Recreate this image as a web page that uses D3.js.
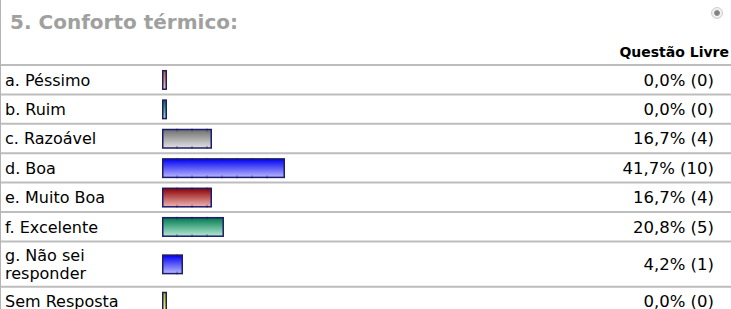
<!DOCTYPE html>
<html>
<head>
<meta charset="utf-8">
<script src="https://cdn.jsdelivr.net/npm/d3@7"></script>
<style>
	body { margin: 0; background: #fff; }
	svg { display: block; font-family: "DejaVu Sans", Verdana, sans-serif; }
</style>
</head>
<body>
<div class="container"></div>
<script>
"use strict";

// chart data
const title = '5. Conforto térmico:'
const columnHeader = 'Questão Livre'
const labels = [['a. Péssimo'], ['b. Ruim'], ['c. Razoável'], ['d. Boa'], ['e. Muito Boa'],
	['f. Excelente'], ['g. Não sei', 'responder'], ['Sem Resposta']]
const percents = [0.0, 0.0, 16.7, 41.7, 16.7, 20.8, 4.2, 0.0]
const counts = [0, 0, 4, 10, 4, 5, 1, 0]
const barColors = [
	['#c05a28', '#f2cdb0'], ['#00665a', '#a8dcd2'], ['#6e6e6e', '#e2e2e2'], ['#0000f0', '#b8b8ff'],
	['#8c0000', '#f0b4b4'], ['#00784e', '#b4ead4'], ['#0000f0', '#b8b8ff'], ['#b4b400', '#ffff7a']
]

//p(properties) of the page layout
const p = {
	width: 731,
	height: 309,
	firstLine: 65,
	rowHeight: 29.4,
	lineHeight: 18.5,
	labelX: 5,
	labelSize: 16,
	barX: 162,
	barHeight: 20,
	valueRight: 714,
	valueSize: 16.5
}

const svg = d3.select('.container')
	.append('svg')
	.attr('width', p.width)
	.attr('height', p.height)

const fmt = v => d3.format('.1f')(v).replace('.', ',')

//row tops, the two line row is taller
let rows = []
let y = p.firstLine
labels.forEach(function(l, i) {
	const h = p.rowHeight + (l.length - 1) * 16
	rows.push({ label: l, pct: percents[i], count: counts[i], color: barColors[i], y0: y, h: h })
	y += h
})

//bar width scale (minimum width for the empty bars)
const x = d3.scaleLinear().domain([0, 4.2, 16.7, 41.7]).range([5, 21, 50, 123])

//gradients
const defs = svg.append('defs')
rows.forEach(function(r, i) {
	const g = defs.append('linearGradient')
		.attr('id', 'grad' + i)
		.attr('x1', 0).attr('y1', 0).attr('x2', 0).attr('y2', 1)
	g.append('stop').attr('offset', '0%').attr('stop-color', r.color[0])
	g.append('stop').attr('offset', '100%').attr('stop-color', r.color[1])
})
const rg = defs.append('radialGradient').attr('id', 'radio')
rg.append('stop').attr('offset', '0%').attr('stop-color', '#7a7a7a')
rg.append('stop').attr('offset', '45%').attr('stop-color', '#8c8c8c')
rg.append('stop').attr('offset', '60%').attr('stop-color', '#f4f4f4')
rg.append('stop').attr('offset', '100%').attr('stop-color', '#e6e6e6')

//left border
svg.append('line')
	.attr('x1', 0.5).attr('x2', 0.5)
	.attr('y1', 0).attr('y2', p.height)
	.attr('stroke', '#b4b4b4')

//title
svg.append('text')
	.attr('x', 10)
	.attr('y', 29)
	.attr('font-size', 20)
	.attr('font-weight', 'bold')
	.attr('fill', '#a0a0a0')
	.text(title)

//radio icon
svg.append('circle').attr('cx', 717).attr('cy', 13).attr('r', 5.5)
	.attr('fill', 'url(#radio)').attr('stroke', '#d0d0d0').attr('stroke-width', 1)

//column header
svg.append('text')
	.attr('x', 729)
	.attr('y', 57)
	.attr('text-anchor', 'end')
	.attr('font-size', 14)
	.attr('font-weight', 'bold')
	.attr('fill', '#000')
	.text(columnHeader)

const row = svg.selectAll('g.row')
	.data(rows)
	.join('g')
	.attr('class', 'row')
	.attr('transform', d => 'translate(0,' + d.y0 + ')')

//row separator
row.append('line')
	.attr('x1', 1).attr('x2', p.width)
	.attr('y1', 0).attr('y2', 0)
	.attr('stroke', '#bdbdbd')
	.attr('stroke-width', 2)

//labels
row.each(function(d) {
	const t = d3.select(this).append('text')
		.attr('x', p.labelX)
		.attr('font-size', p.labelSize)
		.attr('fill', '#000')
	const top = d.h / 2 + 6 - (d.label.length - 1) * p.lineHeight / 2
	d.label.forEach(function(s, k) {
		t.append('tspan').attr('x', p.labelX).attr('y', top + k * p.lineHeight).text(s)
	})
})

//bars
row.append('rect')
	.attr('x', p.barX + 0.75)
	.attr('y', d => (d.h - p.barHeight) / 2 + 1)
	.attr('width', d => x(d.pct) - 1.5)
	.attr('height', p.barHeight - 1.5)
	.attr('fill', (d, i) => 'url(#grad' + i + ')')
	.attr('stroke', '#1c1c6c')
	.attr('stroke-width', 1.5)

//little tile marks along the bars
row.each(function(d) {
	const w = x(d.pct)
	const by = (d.h - p.barHeight) / 2 + 1
	d3.select(this).selectAll('line.tick')
		.data(d3.range(p.barX + 15, p.barX + w - 3, 15))
		.join('line')
		.attr('class', 'tick')
		.attr('x1', v => v).attr('x2', v => v)
		.attr('y1', by - 1).attr('y2', by + p.barHeight - 0.5)
		.attr('stroke', '#1c1c6c')
		.attr('stroke-width', 1)
		.attr('stroke-opacity', 0.6)
		.attr('stroke-dasharray', '3,' + (p.barHeight - 5.5) + ',3')
})

//values
row.append('text')
	.attr('x', p.valueRight)
	.attr('y', d => d.h / 2 + 6)
	.attr('text-anchor', 'end')
	.attr('font-size', p.valueSize)
	.attr('fill', '#000')
	.text(d => fmt(d.pct) + '% (' + d.count + ')')
</script>
</body>
</html>
